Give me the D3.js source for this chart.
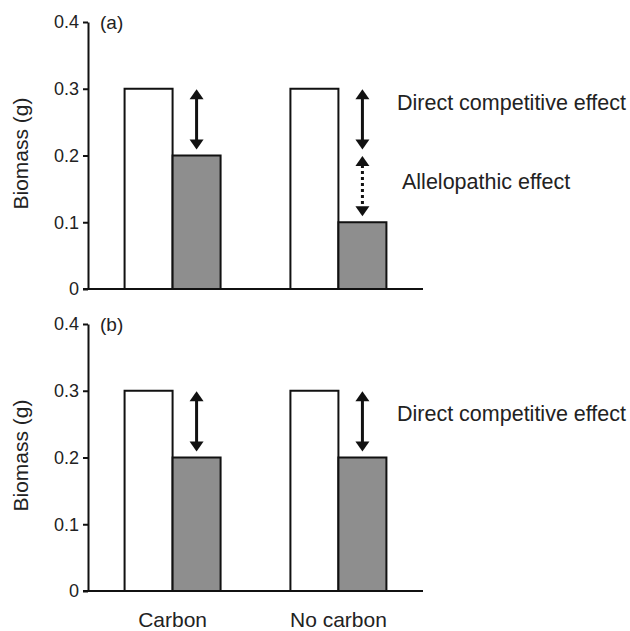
<!DOCTYPE html>
<html>
<head>
<meta charset="utf-8">
<script src="https://cdn.jsdelivr.net/npm/d3@7"></script>
<style>
  html, body { margin: 0; padding: 0; background: #fff; }
  svg { display: block; font-family: "Liberation Sans", Arial, sans-serif; }
</style>
</head>
<body>
<svg id="chart" width="630" height="631"></svg>
<script>
// chart values
var categories = ["Carbon", "No carbon"];
var seriesNames = ["Alone", "With neighbour"];
var panelNames = ["(a)", "(b)"];
var aloneA = [0.3, 0.3];
var neighbourA = [0.2, 0.1];
var aloneB = [0.3, 0.3];
var neighbourB = [0.2, 0.2];
var yTicks = [0, 0.1, 0.2, 0.3, 0.4];
var arrowsA = [
    {cat: "Carbon", from: 0.3, to: 0.2, dotted: false},
    {cat: "No carbon", from: 0.3, to: 0.2, dotted: false},
    {cat: "No carbon", from: 0.2, to: 0.1, dotted: true}
];
var arrowsB = [
    {cat: "Carbon", from: 0.3, to: 0.2, dotted: false},
    {cat: "No carbon", from: 0.3, to: 0.2, dotted: false}
];
var notesA = [
    {text: "Direct competitive effect", at: 0.268},
    {text: "Allelopathic effect", at: 0.150}
];
var notesB = [
    {text: "Direct competitive effect", at: 0.255}
];

var svg = d3.select("#chart");
var fillColors = ["#ffffff", "#8e8e8e"];
var ink = "#111", textInk = "#222";

var x = d3.scalePoint().domain(categories).range([88, 423]).padding(0.51);
var xInner = d3.scaleBand().domain(seriesNames).range([-48, 48]);

function drawPanel(top, bottom, label, alone, neighbour, arrows, notes, showCategories) {
    var y = d3.scaleLinear().domain([0, 0.4]).range([bottom, top]);
    var g = svg.append("g");

    var groups = g.selectAll("g.group").data(categories).enter().append("g")
        .attr("class", "group")
        .attr("transform", function(d) { return "translate(" + x(d) + ",0)"; });

    groups.selectAll("rect").data(function(d, i) {
            return [{s: seriesNames[0], v: alone[i]}, {s: seriesNames[1], v: neighbour[i]}];
        }).enter().append("rect")
        .attr("x", function(d) { return xInner(d.s); })
        .attr("width", xInner.bandwidth())
        .attr("y", function(d) { return y(d.v); })
        .attr("height", function(d) { return y(0) - y(d.v); })
        .attr("fill", function(d, i) { return fillColors[i]; })
        .attr("stroke", ink)
        .attr("stroke-width", 2);

    // baseline
    g.append("line")
        .attr("x1", 83).attr("x2", 423)
        .attr("y1", y(0)).attr("y2", y(0))
        .attr("stroke", ink).attr("stroke-width", 2);

    var axis = g.append("g")
        .attr("transform", "translate(88,0)")
        .call(d3.axisLeft(y).tickValues(yTicks).tickSize(5).tickSizeOuter(0).tickPadding(4)
            .tickFormat(function(d) { return d === 0 ? "0" : d3.format(".1f")(d); }));
    axis.attr("font-family", null).attr("font-size", null);
    axis.select(".domain").attr("stroke", ink).attr("stroke-width", 2);
    axis.selectAll(".tick line").attr("stroke", ink).attr("stroke-width", 2);
    axis.selectAll(".tick text").attr("font-size", 18).attr("fill", textInk);

    g.append("text")
        .attr("transform", "translate(28," + ((top + bottom) / 2 - 2) + ") rotate(-90)")
        .attr("text-anchor", "middle")
        .attr("font-size", 21)
        .attr("fill", textInk)
        .text("Biomass (g)");

    g.append("text")
        .attr("x", 100).attr("y", top + 7)
        .attr("font-size", 19)
        .attr("fill", textInk)
        .text(label);

    // arrows sit over the shaded bar of each group
    var arrowX = function(d) { return x(d.cat) + xInner(seriesNames[1]) + xInner.bandwidth() / 2; };
    var head = 10, halfW = 7;
    var arrowG = g.selectAll("g.arrow").data(arrows).enter().append("g").attr("class", "arrow");
    arrowG.each(function(d) {
        var a = d3.select(this),
            ax = arrowX(d),
            y1 = y(d.from) + 0.5,
            y2 = y(d.to) - 6;
        a.append("line")
            .attr("x1", ax).attr("x2", ax)
            .attr("y1", y1 + head - 1).attr("y2", y2 - head + 1)
            .attr("stroke", ink)
            .attr("stroke-width", 3)
            .attr("stroke-dasharray", d.dotted ? "3,3" : null);
        a.append("path")
            .attr("d", "M" + ax + "," + y1 + "L" + (ax - halfW) + "," + (y1 + head) + "L" + (ax + halfW) + "," + (y1 + head) + "Z")
            .attr("fill", ink);
        a.append("path")
            .attr("d", "M" + ax + "," + y2 + "L" + (ax - halfW) + "," + (y2 - head) + "L" + (ax + halfW) + "," + (y2 - head) + "Z")
            .attr("fill", ink);
    });

    g.selectAll("text.note").data(notes).enter().append("text")
        .attr("class", "note")
        .attr("x", function(d, i) { return i === 0 ? 397 : 402; })
        .attr("y", function(d) { return y(d.at); })
        .attr("font-size", 21.5)
        .attr("fill", textInk)
        .text(function(d) { return d.text; });

    if (showCategories) {
        g.selectAll("text.cat").data(categories).enter().append("text")
            .attr("class", "cat")
            .attr("x", function(d) { return x(d); })
            .attr("y", bottom + 36)
            .attr("text-anchor", "middle")
            .attr("font-size", 21)
            .attr("fill", textInk)
            .text(function(d) { return d; });
    }
}

drawPanel(22, 289, panelNames[0], aloneA, neighbourA, arrowsA, notesA, false);
drawPanel(324, 591, panelNames[1], aloneB, neighbourB, arrowsB, notesB, true);
</script>
</body>
</html>
